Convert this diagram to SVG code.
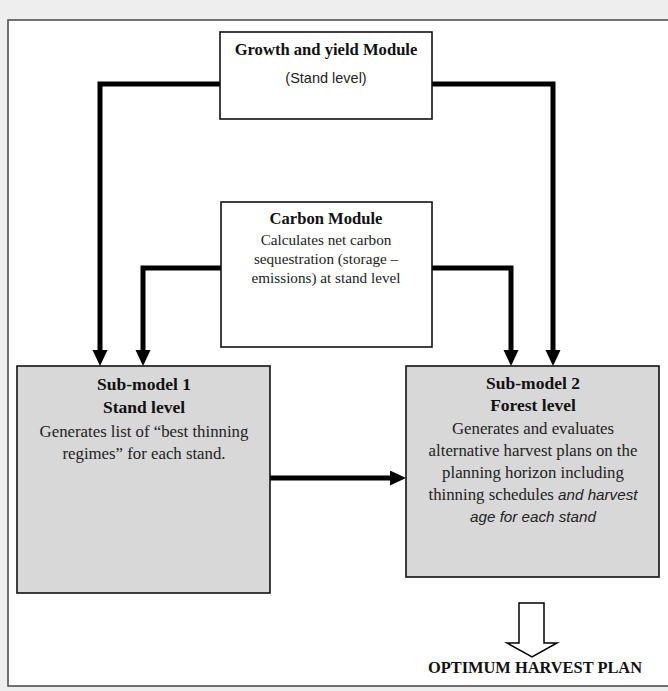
<svg xmlns="http://www.w3.org/2000/svg" width="668" height="691" viewBox="0 0 668 691">
<style>
.box{stroke:#111;stroke-width:1.6}
.w{fill:#fff}
.g{fill:#d8d8d8}
.b{font-family:"Liberation Serif","Times New Roman",serif;font-weight:bold;font-size:16.6px;fill:#111;text-anchor:middle}
.h{font-size:17.5px}
.t{font-family:"Liberation Serif","Times New Roman",serif;font-size:16.8px;fill:#222;text-anchor:middle}
.cb{font-size:15.2px}
.s{font-family:"Liberation Sans",Arial,sans-serif;font-size:14.5px;fill:#222}
.i{font-family:"Liberation Sans",Arial,sans-serif;font-style:italic;font-size:15.2px}
.c{fill:none;stroke:#000;stroke-width:5;stroke-linejoin:miter;marker-end:url(#ah)}
</style>
<defs>
<marker id="ah" markerUnits="userSpaceOnUse" markerWidth="16" markerHeight="16" refX="0" refY="7.5" orient="auto">
<path d="M0,0 L16,7.5 L0,15 Z" fill="#000"/>
</marker>
</defs>
<rect x="0" y="0" width="668" height="691" fill="#eeeeee"/>
<rect x="8" y="20" width="680" height="666" fill="#fff" stroke="#444" stroke-width="1.5"/>
<g id="connectors">
<path class="c" d="M220,84 H100 V350"/>
<path class="c" d="M432,84 H553 V350"/>
<path class="c" d="M221,268 H143 V350"/>
<path class="c" d="M432,268 H511 V350"/>
<path class="c" d="M270,478 H390"/>
<polygon points="519,603 544,603 544,643 557,643 532,657 507,643 519,643" fill="#fff" stroke="#000" stroke-width="1.5"/>
</g>
<g id="growth">
<rect class="box w" x="220" y="32" width="212" height="87"/>
<text class="b" x="326" y="55">Growth and yield Module</text>
<text class="s" x="326" y="83" text-anchor="middle">(Stand level)</text>
</g>
<g id="carbon">
<rect class="box w" x="221" y="202" width="211" height="145"/>
<text class="b" x="326" y="224">Carbon Module</text>
<text class="t cb" x="326" y="245">Calculates net carbon</text>
<text class="t cb" x="326" y="264">sequestration (storage –</text>
<text class="t cb" x="326" y="283">emissions) at stand level</text>
</g>
<g id="sub1">
<rect class="box g" x="17" y="366" width="253" height="227"/>
<text class="b h" x="144" y="390">Sub-model 1</text>
<text class="b h" x="144" y="413">Stand level</text>
<text class="t" x="144" y="437">Generates list of “best thinning</text>
<text class="t" x="144" y="459">regimes” for each stand.</text>
</g>
<g id="sub2">
<rect class="box g" x="406" y="366" width="253" height="211"/>
<text class="b h" x="533" y="389">Sub-model 2</text>
<text class="b h" x="533" y="411">Forest level</text>
<text class="t" x="533" y="434">Generates and evaluates</text>
<text class="t" x="533" y="456">alternative harvest plans on the</text>
<text class="t" x="533" y="478">planning horizon including</text>
<text class="t" x="533" y="500">thinning schedules <tspan class="i">and harvest</tspan></text>
<text class="t i" x="533" y="522">age for each stand</text>
</g>
<g id="result">
<text class="b" x="535" y="673" style="font-size:16.4px">OPTIMUM HARVEST PLAN</text>
</g>
</svg>
